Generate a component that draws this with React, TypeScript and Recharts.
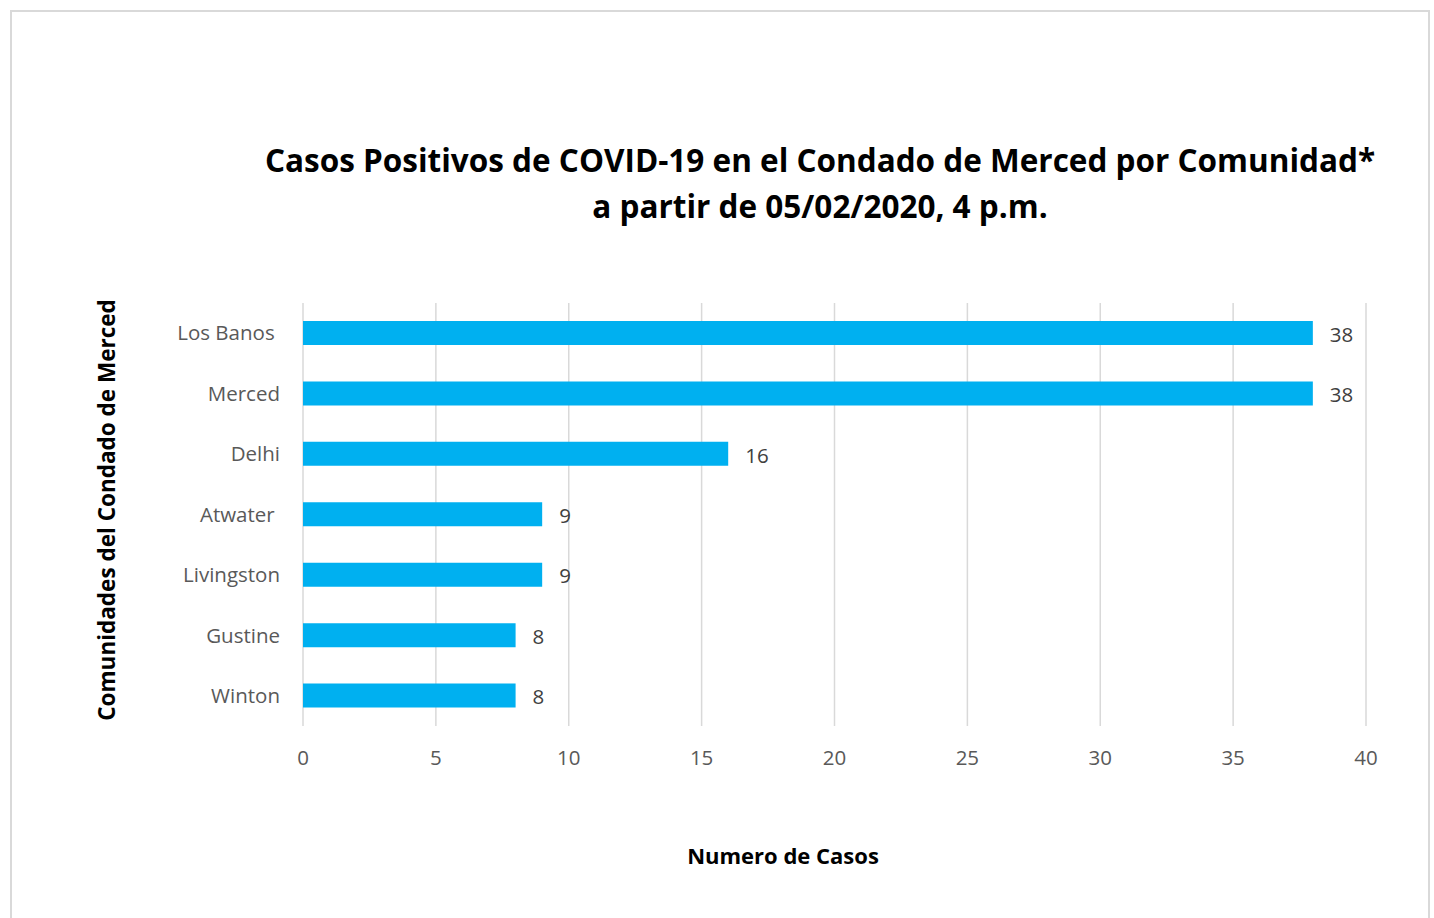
import * as React from "react";
import { BarChart, Bar, XAxis, YAxis, CartesianGrid, LabelList } from "recharts";

const communities = ["Los Banos ", "Merced", "Delhi", "Atwater ", "Livingston", "Gustine", "Winton"];
const cases = [38, 38, 16, 9, 9, 8, 8];
const xTicks = [0, 5, 10, 15, 20, 25, 30, 35, 40];

const data = communities.map((name, i) => ({ name, cases: cases[i] }));

const FONT = "'Open Sans', sans-serif";

const CommunityTick = (props: any) => {
  const { x, y, payload } = props;
  return (
    <text
      x={x}
      y={y}
      dy="0.35em"
      textAnchor="end"
      fill="#595959"
      fontSize={20.5}
      fontFamily={FONT}
      style={{ whiteSpace: "pre" }}
    >
      {payload.value}
    </text>
  );
};

export default function App() {
  return (
    <div style={{ position: "absolute", left: 0, top: 0, width: 1434, height: 918, background: "#fff", overflow: "hidden" }}>
      <div
        style={{
          position: "absolute",
          left: 10,
          top: 10,
          width: 1416,
          height: 920,
          border: "2px solid #d9d9d9",
        }}
      />
      <div
        style={{
          position: "absolute",
          left: 120,
          top: 137,
          width: 1400,
          textAlign: "center",
          fontFamily: FONT,
          fontWeight: 700,
          fontSize: 31.5,
          lineHeight: "46px",
          color: "#000",
        }}
      >
        Casos Positivos de COVID-19 en el Condado de Merced por Comunidad*
        <br />
        a partir de 05/02/2020, 4 p.m.
      </div>
      <div
        style={{
          position: "absolute",
          left: 106,
          top: 510,
          transform: "translate(-50%, -50%) rotate(-90deg)",
          whiteSpace: "nowrap",
          fontFamily: FONT,
          fontWeight: 700,
          fontSize: 22.5,
          color: "#000",
        }}
      >
        Comunidades del Condado de Merced
      </div>
      <div
        style={{
          position: "absolute",
          left: 783,
          top: 855,
          transform: "translate(-50%, -50%)",
          whiteSpace: "nowrap",
          fontFamily: FONT,
          fontWeight: 700,
          fontSize: 22,
          color: "#000",
        }}
      >
        Numero de Casos
      </div>
      <BarChart
        width={1434}
        height={918}
        data={data}
        layout="vertical"
        margin={{ top: 303, right: 68, left: 0, bottom: 132 }}
        barSize={24}
        style={{ position: "absolute", left: 0, top: 0 }}
      >
        <CartesianGrid horizontal={false} stroke="#d9d9d9" strokeWidth={1.5} />
        <XAxis
          type="number"
          domain={[0, 40]}
          ticks={xTicks}
          axisLine={false}
          tickLine={false}
          tickSize={0}
          tickMargin={24}
          height={60}
          interval={0}
          tick={{ fill: "#595959", fontSize: 20.5, fontFamily: FONT }}
        />
        <YAxis
          type="category"
          dataKey="name"
          width={303}
          axisLine={false}
          tickLine={false}
          tickSize={0}
          tickMargin={23}
          interval={0}
          tick={<CommunityTick />}
        />
        <Bar dataKey="cases" fill="#00b0f0" isAnimationActive={false}>
          <LabelList
            dataKey="cases"
            position="right"
            offset={17}
            dy={1.5}
            fill="#404040"
            fontSize={20.5}
            fontFamily={FONT}
          />
        </Bar>
      </BarChart>
    </div>
  );
}
